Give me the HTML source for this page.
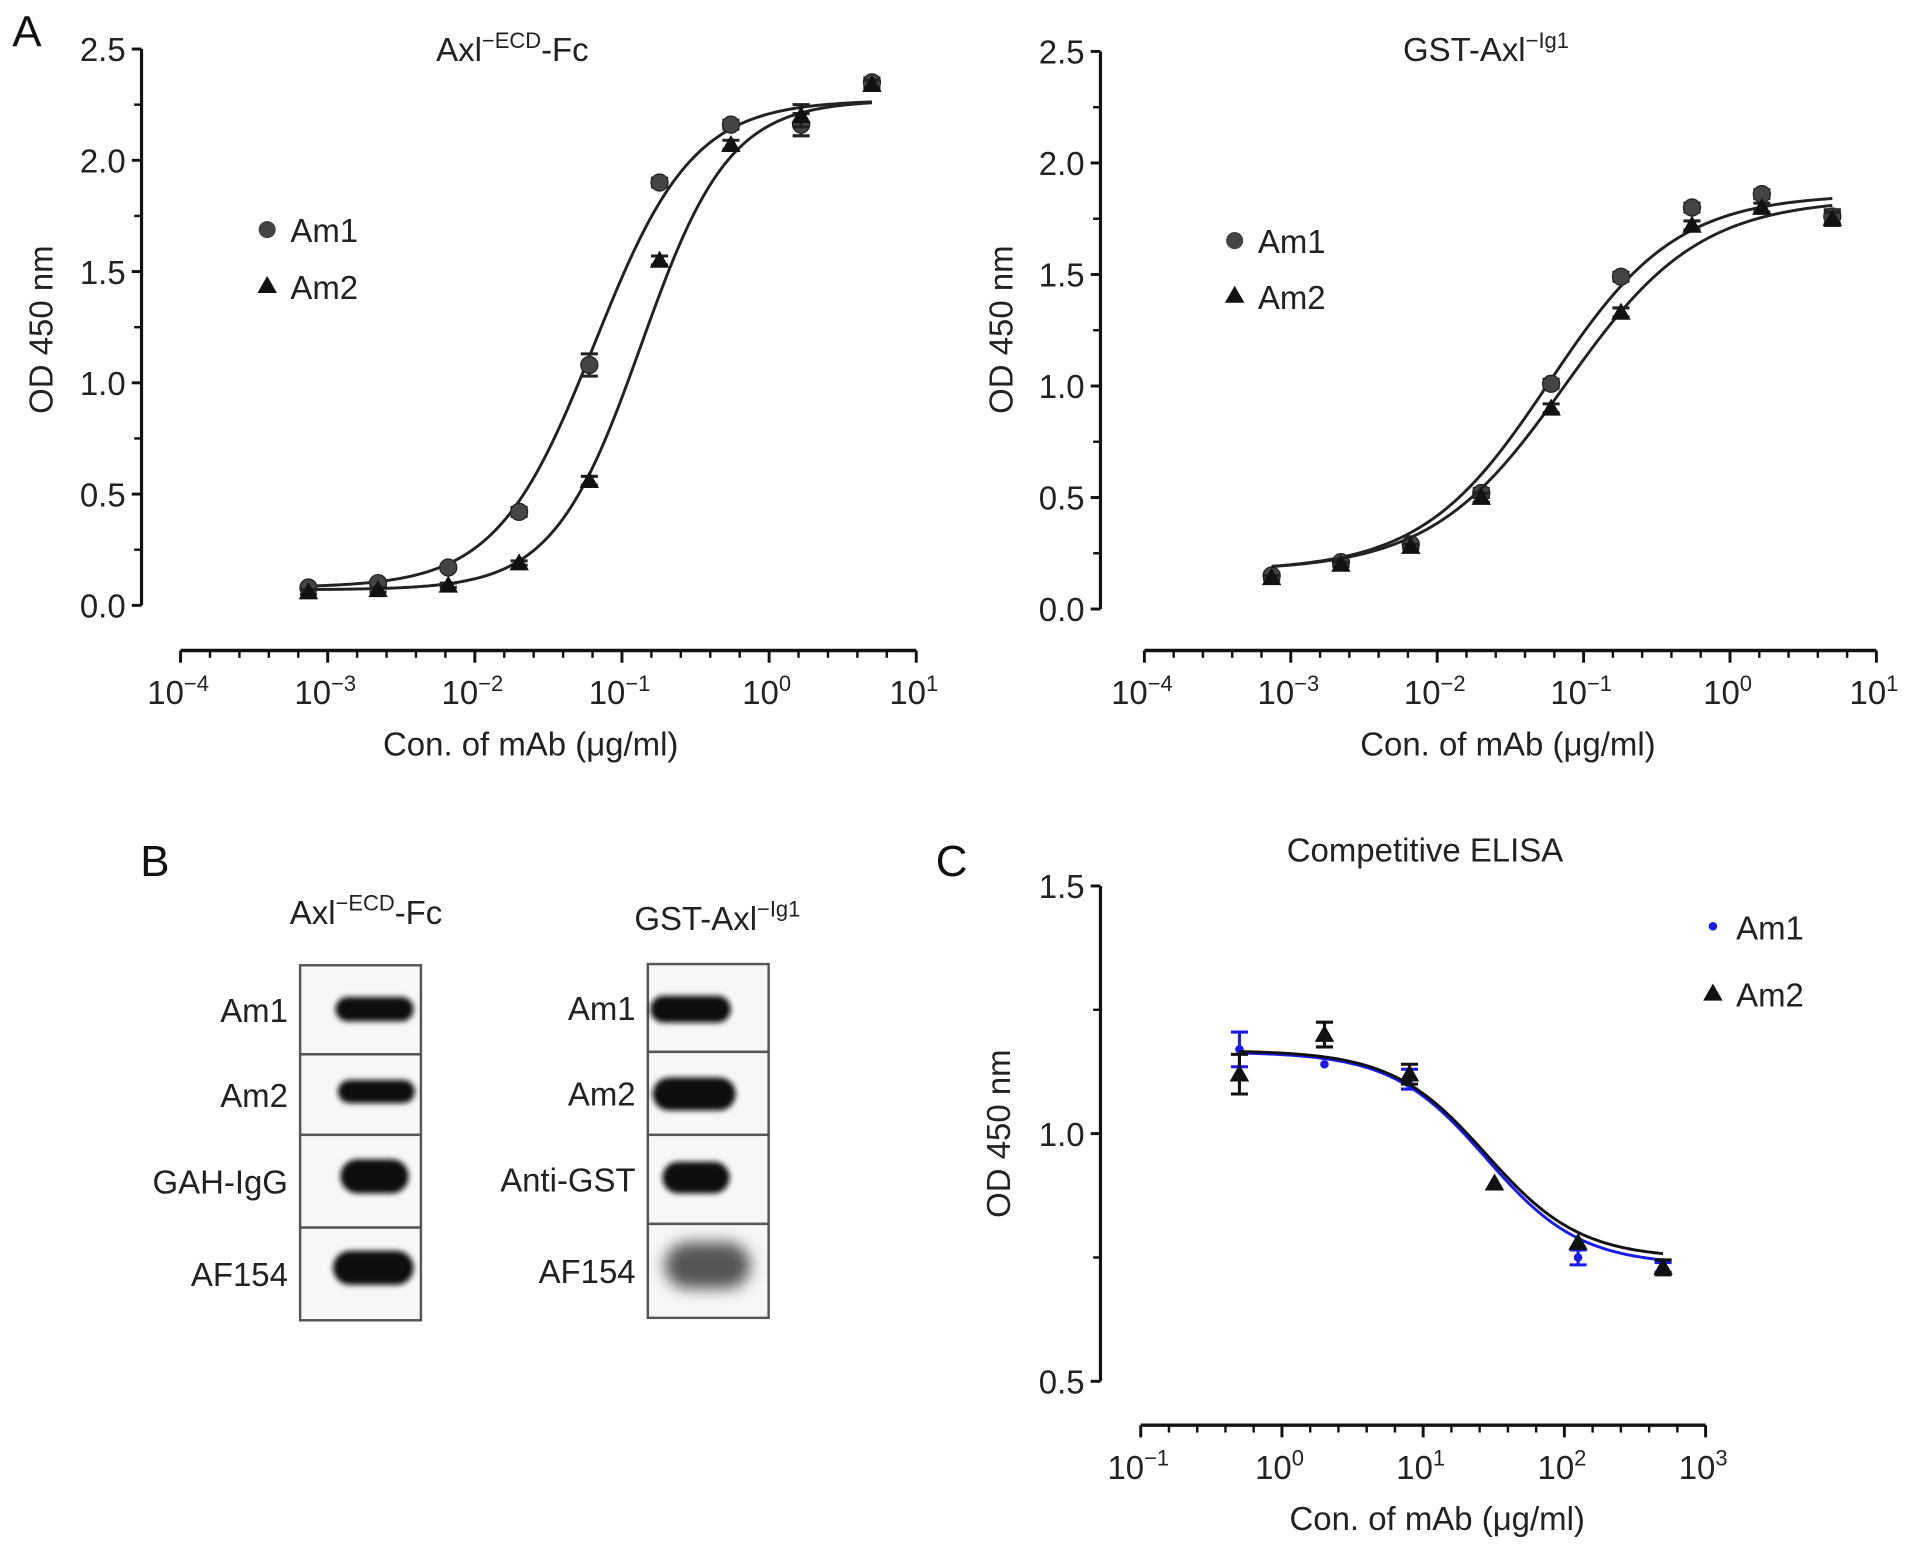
<!DOCTYPE html>
<html><head><meta charset="utf-8"><style>
html,body{margin:0;padding:0;background:#fff;}
svg{display:block;font-family:"Liberation Sans",Arial,sans-serif;}
</style></head><body>
<svg id="fig" width="1913" height="1545" viewBox="0 0 1568 1266" xmlns="http://www.w3.org/2000/svg">
<defs><filter id="blur" x="-20%" y="-50%" width="140%" height="200%"><feGaussianBlur stdDeviation="2.2"/></filter>
<filter id="blur2" x="-30%" y="-60%" width="160%" height="220%"><feGaussianBlur stdDeviation="6"/></filter></defs>
<g id="root"></g>
</svg>
<script>
// ---- Panel A left data ----
const concA = [7.4e-4, 2.2e-3, 6.6e-3, 0.02, 0.06, 0.18, 0.55, 1.65, 5.0];
const a1Am1 = [0.08, 0.10, 0.17, 0.42, 1.08, 1.90, 2.16, 2.16, 2.35];
const a1Am2 = [0.06, 0.07, 0.09, 0.19, 0.56, 1.55, 2.07, 2.20, 2.34];
const a1Am1Err = [0.01, 0.01, 0.01, 0.02, 0.05, 0.02, 0.02, 0.05, 0.02];
const a1Am2Err = [0.01, 0.01, 0.01, 0.01, 0.02, 0.02, 0.02, 0.05, 0.02];
const a1FitAm1 = [0.08, 2.27, 0.065, 1.3]; // low-x asymptote, high-x asymptote, EC50, hill
const a1FitAm2 = [0.07, 2.27, 0.135, 1.45];
// ---- Panel A right data ----
const a2Am1 = [0.15, 0.21, 0.29, 0.52, 1.01, 1.49, 1.80, 1.86, 1.76];
const a2Am2 = [0.14, 0.20, 0.28, 0.50, 0.90, 1.33, 1.72, 1.80, 1.75];
const a2Am1Err = [0.01, 0.01, 0.01, 0.02, 0.02, 0.02, 0.02, 0.02, 0.03];
const a2Am2Err = [0.01, 0.01, 0.01, 0.02, 0.02, 0.02, 0.02, 0.02, 0.03];
const a2FitAm1 = [0.17, 1.86, 0.058, 1.0];
const a2FitAm2 = [0.17, 1.84, 0.075, 0.95];
const yTicksA = ["0.0", "0.5", "1.0", "1.5", "2.0", "2.5"];
const yValsA = [0, 0.5, 1.0, 1.5, 2.0, 2.5];
const xExpA = [-4, -3, -2, -1, 0, 1];
// ---- Panel C data ----
const concC = [0.5, 2, 8, 32, 125, 500];
const cAm1 = [1.17, 1.14, 1.11, 0.90, 0.75, 0.73];
const cAm2 = [1.12, 1.20, 1.12, 0.90, 0.78, 0.73];
const cAm1Err = [0.035, 0.0, 0.02, 0.0, 0.015, 0.01];
const cAm2Err = [0.04, 0.025, 0.02, 0.0, 0.0, 0.015];
const cFitAm1 = [1.165, 0.735, 28, 1.3];
const cFitAm2 = [1.168, 0.748, 28, 1.3];
const yValsC = [0.5, 1.0, 1.5];
const yTicksC = ["0.5", "1.0", "1.5"];
const xExpC = [-1, 0, 1, 2, 3];

const FS = 27;
const NS = "http://www.w3.org/2000/svg";
const root = document.getElementById('root');
function el(tag, attrs, parent, text) {
  const e = document.createElementNS(NS, tag);
  for (const k in attrs) e.setAttribute(k, attrs[k]);
  if (text !== undefined) e.textContent = text;
  (parent || root).appendChild(e);
  return e;
}
function fourPL(x, p) { return p[0] + (p[1] - p[0]) / (1 + Math.pow(p[2] / x, p[3])); }

function makeAxes(cfg) {
  const sx = v => cfg.x0 + (Math.log10(v) - cfg.eMin) * cfg.dec;
  const sy = v => cfg.yb - (v - cfg.vMin) * cfg.pxPer;
  return { sx, sy };
}

function drawPanel(name, cfg, series, yVals, yTicks, xExp, minorY) {
  const g = el('g', {});
  
  
  const { sx, sy } = makeAxes(cfg);
  const ya = el('line', { x1: cfg.yx, x2: cfg.yx, y1: sy(yVals[yVals.length - 1]), y2: sy(yVals[0]), stroke: '#111', 'stroke-width': 2.6 }, g);
  
  
  yVals.forEach((v, i) => {
    el('line', { x1: cfg.yx - 8, x2: cfg.yx, y1: sy(v), y2: sy(v), stroke: '#111', 'stroke-width': 2.4 }, g);
    const t = el('text', { x: cfg.yx - 13, y: sy(v) + 10, 'text-anchor': 'end', 'font-size': FS, fill: '#222' }, g, yTicks[i]);
    
    
    if (minorY && i < yVals.length - 1) {
      for (let k = 1; k < minorY; k++) {
        const mv = v + (yVals[i + 1] - v) * k / minorY;
        el('line', { x1: cfg.yx - 6, x2: cfg.yx, y1: sy(mv), y2: sy(mv), stroke: '#111', 'stroke-width': 2 }, g);
      }
    }
  });
  const xa = el('line', { x1: sx(Math.pow(10, xExp[0])), x2: sx(Math.pow(10, xExp[xExp.length - 1])), y1: cfg.xy, y2: cfg.xy, stroke: '#111', 'stroke-width': 2.8 }, g);
  
  
  xExp.forEach((e, i) => {
    const x = sx(Math.pow(10, e));
    el('line', { x1: x, x2: x, y1: cfg.xy, y2: cfg.xy + 10, stroke: '#111', 'stroke-width': 2.4 }, g);
    if (i < xExp.length - 1) {
      for (let k = 1; k < 5; k++) {
        const mx = x + cfg.dec * k / 5;
        el('line', { x1: mx, x2: mx, y1: cfg.xy, y2: cfg.xy + 6, stroke: '#111', 'stroke-width': 2 }, g);
      }
    }
    const t = el('text', { x: x - 2, y: cfg.xy + 44, 'text-anchor': 'middle', 'font-size': FS, fill: '#222' }, g);
    
    
    el('tspan', {}, t, '10');
    el('tspan', { dy: -11, 'font-size': 18 }, t, e < 0 ? '\u2212' + (-e) : String(e));
  });
  const xt = el('text', { x: cfg.xTitleX, y: cfg.xy + 86, 'text-anchor': 'middle', 'font-size': FS, fill: '#222' }, g, 'Con. of mAb (\u03bcg/ml)');
  
  
  const yt = el('text', { x: 0, y: 0, 'text-anchor': 'middle', 'font-size': FS, fill: '#222', transform: `translate(${cfg.yTitleX},${cfg.yTitleY}) rotate(-90)` }, g, 'OD 450 nm');
  
  
  series.forEach(s => {
    const sg = el('g', {}, g);
    
    
    const lo = Math.log10(s.x[0]), hi = Math.log10(s.x[s.x.length - 1]);
    let d = '';
    for (let i = 0; i <= 200; i++) {
      const xv = Math.pow(10, lo + (hi - lo) * i / 200);
      d += (i ? 'L' : 'M') + sx(xv).toFixed(2) + ',' + sy(fourPL(xv, s.fit)).toFixed(2);
    }
    const c = el('path', { d, fill: 'none', stroke: s.lineColor, 'stroke-width': 2.4 }, sg);
    
    
    s.x.forEach((xv, i) => {
      const px = sx(xv), py = sy(s.y[i]);
      const e = s.err[i];
      if (e > 0) {
        el('line', { x1: px, x2: px, y1: sy(s.y[i] + e), y2: sy(s.y[i] - e), stroke: s.color, 'stroke-width': 2.5 }, sg);
        el('line', { x1: px - 7, x2: px + 7, y1: sy(s.y[i] + e), y2: sy(s.y[i] + e), stroke: s.color, 'stroke-width': 2.5 }, sg);
        el('line', { x1: px - 7, x2: px + 7, y1: sy(s.y[i] - e), y2: sy(s.y[i] - e), stroke: s.color, 'stroke-width': 2.5 }, sg);
      }
      let m;
      if (s.marker === 'hex') m = el('circle', { cx: px, cy: py, r: 7, fill: '#444', stroke: '#222', 'stroke-width': 1 }, sg);
      else if (s.marker === 'dot') m = el('circle', { cx: px, cy: py, r: 3.5, fill: s.color }, sg);
      else m = el('path', { d: `M${px},${py - 8}L${px + 8},${py + 6}L${px - 8},${py + 6}Z`, fill: '#111' }, sg);
      
      
    });
  });
  return g;
}

function legend(x, y1, y2, dotType) {
  const g = el('g', {});
  
  
  if (dotType === 'dot') el('circle', { cx: x, cy: y1 - 1, r: 3.5, fill: '#1a1aee' }, g);
  else el('circle', { cx: x, cy: y1, r: 7, fill: '#444' }, g);
  el('text', { x: x + 19, y: y1 + 10, 'font-size': FS, fill: '#222' }, g, 'Am1');
  el('path', { d: `M${x},${y2 - 9}L${x + 8},${y2 + 5}L${x - 8},${y2 + 5}Z`, fill: '#111' }, g);
  el('text', { x: x + 19, y: y2 + 10, 'font-size': FS, fill: '#222' }, g, 'Am2');
}

function title(x, y, base, sup, suffix, name) {
  const t = el('text', { x, y, 'text-anchor': 'middle', 'font-size': FS, fill: '#222' });
  
  
  el('tspan', {}, t, base);
  if (sup) el('tspan', { dy: -11, 'font-size': 18 }, t, sup);
  if (suffix) el('tspan', { dy: 11 }, t, suffix);
}

[['A', 22, 38], ['B', 127, 718], ['C', 780, 718]].forEach(p => {
  const t = el('text', { x: p[1], y: p[2], 'text-anchor': 'middle', 'font-size': 36, fill: '#111' }, root, p[0]);
  
  
});

drawPanel('panel-a-axl-ecd-fc', { x0: 148, eMin: -4, dec: 120.6, yb: 496, vMin: 0, pxPer: 182.4, yx: 116, xy: 533, xTitleX: 435, yTitleX: 43, yTitleY: 270 },
  [{ name: 'am1', x: concA, y: a1Am1, err: a1Am1Err, fit: a1FitAm1, marker: 'hex', color: '#222', lineColor: '#222' },
   { name: 'am2', x: concA, y: a1Am2, err: a1Am2Err, fit: a1FitAm2, marker: 'tri', color: '#222', lineColor: '#222' }],
  yValsA, yTicksA, xExpA, 2);
title(420, 50, 'Axl', '\u2212ECD', '-Fc', 'chart-title-axl-ecd-fc');
legend(219, 188, 235);

drawPanel('panel-a-gst-axl-ig1', { x0: 938, eMin: -4, dec: 120, yb: 499, vMin: 0, pxPer: 182.8, yx: 902, xy: 533, xTitleX: 1236, yTitleX: 830, yTitleY: 270 },
  [{ name: 'am1', x: concA, y: a2Am1, err: a2Am1Err, fit: a2FitAm1, marker: 'hex', color: '#222', lineColor: '#222' },
   { name: 'am2', x: concA, y: a2Am2, err: a2Am2Err, fit: a2FitAm2, marker: 'tri', color: '#222', lineColor: '#222' }],
  yValsA, yTicksA, xExpA, 2);
title(1218, 50, 'GST-Axl', '\u2212Ig1', '', 'chart-title-gst-axl-ig1');
legend(1012, 197, 243);

drawPanel('panel-c-competitive-elisa', { x0: 935, eMin: -1, dec: 115.75, yb: 1132, vMin: 0.5, pxPer: 406, yx: 902, xy: 1168, xTitleX: 1178, yTitleX: 828, yTitleY: 929 },
  [{ name: 'am1', x: concC, y: cAm1, err: cAm1Err, fit: cFitAm1, marker: 'dot', color: '#1a1aee', lineColor: '#1a1aee' },
   { name: 'am2', x: concC, y: cAm2, err: cAm2Err, fit: cFitAm2, marker: 'tri', color: '#111', lineColor: '#111' }],
  yValsC, yTicksC, xExpC, 2);
title(1168, 706, 'Competitive ELISA', '', '', 'chart-title-competitive-elisa');
legend(1404, 760, 815, 'dot');

const blotLeftLabels = ['Am1', 'Am2', 'GAH-IgG', 'AF154'];
const blotRightLabels = ['Am1', 'Am2', 'Anti-GST', 'AF154'];
function blot(name, bx, rows, labels, bands) {
  const g = el('g', {});
  
  
  for (let i = 0; i < 4; i++) {
    const r = el('rect', { x: bx, y: rows[i], width: 99, height: rows[i + 1] - rows[i], fill: '#f7f7f7', stroke: '#555', 'stroke-width': 2 }, g);
    
    
    const b = bands[i];
    el('rect', { x: b[0], y: b[1], width: b[2], height: b[3], rx: b[3] / 2, fill: b[4] || '#111', filter: b[5] ? 'url(#blur2)' : 'url(#blur)' }, g);
    el('text', { x: bx - 10, y: (rows[i] + rows[i + 1]) / 2 + 10, 'text-anchor': 'end', 'font-size': FS, fill: '#222' }, g, labels[i]);
  }
}
blot('western-blot-axl-ecd-fc', 246, [791, 864, 930, 1006, 1082], blotLeftLabels,
  [[275, 817, 64, 20], [277, 885, 63, 19], [279, 950, 56, 28], [273, 1025, 66, 28]]);
blot('western-blot-gst-axl-ig1', 531, [790, 862, 930, 1003, 1080], blotRightLabels,
  [[533, 816, 66, 22], [535, 883, 68, 27], [543, 952, 55, 26], [545, 1018, 70, 38, '#555', 1]]);
title(300, 757, 'Axl', '\u2212ECD', '-Fc', 'blot-title-axl-ecd-fc');
title(588, 762, 'GST-Axl', '\u2212Ig1', '', 'blot-title-gst-axl-ig1');
</script>
</body></html>
